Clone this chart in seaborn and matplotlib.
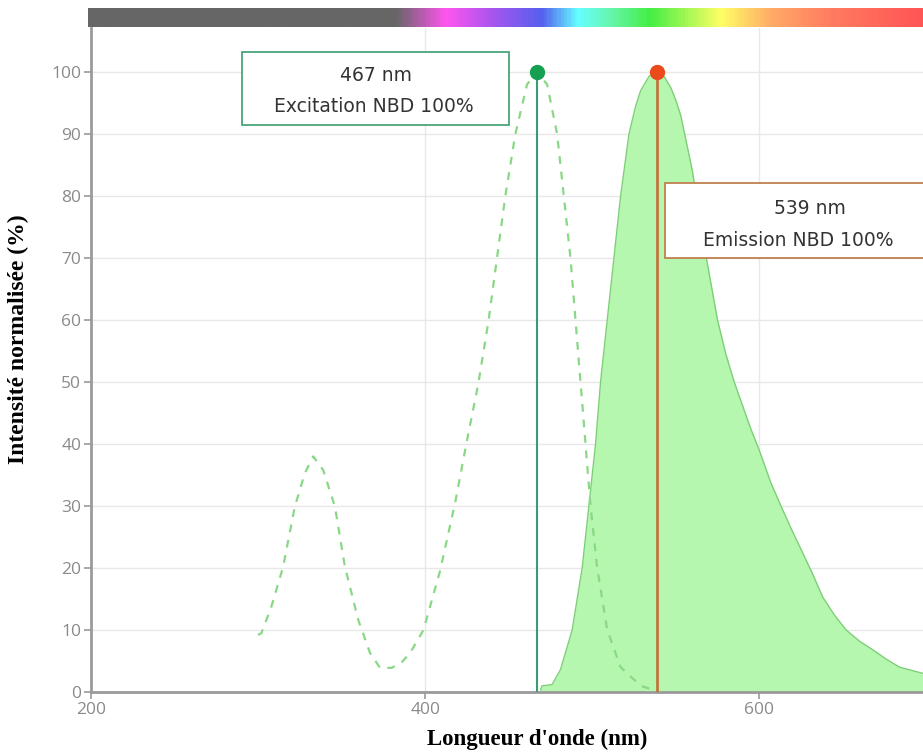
import matplotlib
matplotlib.use('Agg')
import matplotlib.pyplot as plt
import seaborn as sns
import numpy as np
import pandas as pd
from matplotlib.colors import LinearSegmentedColormap
from matplotlib.patches import Rectangle

# excitation spectrum (dashed)
exc_nm = [300, 302, 308, 315, 322, 328, 333, 339, 346, 352, 360, 367, 373, 380, 386,
          391, 399, 409, 418, 425, 432, 438, 443, 448, 454, 461, 467, 473, 479, 483,
          487, 490, 493, 496, 499, 503, 509, 517, 529, 537]
exc_val = [9.2, 9.5, 13.8, 20.2, 29.9, 35.3, 38.0, 35.8, 29.9, 20.2, 11.6, 6.3, 3.9, 3.9, 4.8,
           6.3, 10.0, 19.6, 30.6, 40.5, 50.0, 60.0, 70.0, 80.0, 90.0, 98.0, 100.0, 98.0, 90.0, 80.0,
           70.0, 60.0, 50.0, 40.0, 30.0, 20.0, 10.0, 4.0, 1.0, 0.3]

# emission spectrum (filled)
em_nm = [469, 470, 476, 481, 488, 494, 498, 502, 505, 509, 513, 517, 522, 526, 529, 534,
         539, 543, 547, 550, 553, 560, 567, 575, 580, 585, 590, 595, 600, 607, 613, 619,
         625, 632, 638, 645, 652, 660, 668, 676, 684, 691, 698]
em_val = [0.3, 1.0, 1.2, 3.6, 10.0, 20.0, 30.0, 40.0, 50.0, 60.0, 70.0, 80.0, 90.0, 94.5, 97.0, 99.3,
          100.0, 99.3, 97.5, 95.5, 93.0, 84.0, 72.0, 60.0, 54.5, 50.0, 46.2, 42.4, 39.0, 33.7, 30.0, 26.4,
          23.0, 19.0, 15.3, 12.4, 10.0, 8.2, 6.8, 5.3, 4.0, 3.5, 3.0]

exc_peak = 467
em_peak = 539
exc_lines = ["467 nm", "Excitation NBD 100%"]
em_lines = ["539 nm", "Emission NBD 100%"]

y_ticks = list(range(0, 101, 10))
x_ticks = [200, 400, 600]

exc_df = pd.DataFrame({"nm": exc_nm, "val": exc_val})
em_df = pd.DataFrame({"nm": em_nm, "val": em_val})

sns.set_theme(style="whitegrid")
plt.rcParams['font.family'] = ['Open Sans', 'DejaVu Sans']

fig = plt.figure(figsize=(9.23, 7.53), dpi=100)
ax = fig.add_axes([91 / 923, 61 / 753, 1 - 91 / 923, 664 / 753])
ax.set_xlim(200, 698)
ax.set_ylim(0, 107.1)

# emission: filled area with a slightly darker edge
ax.fill_between(em_df["nm"], em_df["val"], color="#b5f7ae", lw=0, zorder=1)
sns.lineplot(data=em_df, x="nm", y="val", ax=ax, color="#7dcf78", lw=1.0, zorder=2)

# excitation: dashed line
sns.lineplot(data=exc_df, x="nm", y="val", ax=ax, color="#8ad886", lw=1.6,
             dashes=False, zorder=3)
ax.lines[-1].set_dashes([3.5, 3.5])

# peak markers
ax.plot([exc_peak, exc_peak], [0, 100], color="#3a9c72", lw=1.5, zorder=4)
ax.plot([em_peak, em_peak], [0, 100], color="#c0753c", lw=2.0, zorder=4)
ax.plot(exc_peak, 100, "o", color="#14a050", ms=10, zorder=5, clip_on=False)
ax.plot(em_peak, 100, "o", color="#ea4a1c", ms=10, zorder=5, clip_on=False)

# annotation boxes
box_font = dict(family="DejaVu Sans", fontsize=13.5, color="#333333", zorder=7,
                ha="center", va="center")
ax.add_patch(Rectangle((290.4, 91.5), 159.9, 11.7, facecolor="white",
                       edgecolor="#4aa57a", lw=1.3, zorder=6))
ax.text(370.6, 99.4, exc_lines[0], **box_font)
ax.text(369.5, 94.5, exc_lines[1], **box_font)
ax.add_patch(Rectangle((543.7, 70.0), 160, 12.1, facecolor="white",
                       edgecolor="#c0804e", lw=1.3, zorder=6, clip_on=False))
ax.text(630.5, 78.0, em_lines[0], **box_font)
ax.text(623.5, 72.9, em_lines[1], **box_font)

# axes styling
ax.set_xticks(x_ticks)
ax.set_yticks(y_ticks)
ax.grid(True, color="#e8e8e8", lw=1.0)
ax.set_axisbelow(True)
for side in ["top", "right"]:
    ax.spines[side].set_visible(False)
for side in ["left", "bottom"]:
    ax.spines[side].set_color("#9a9a9a")
    ax.spines[side].set_linewidth(2.0)
ax.tick_params(axis="both", colors="#9a9a9a", labelcolor="#8a8a8a", labelsize=12.5,
               length=5, width=1.2, direction="out", left=True, bottom=True, pad=2)
ax.set_xlabel("Longueur d'onde (nm)", family="Liberation Serif", fontweight="bold",
              fontsize=16.5, color="black")
ax.set_ylabel("Intensité normalisée (%)", family="Liberation Serif", fontweight="bold",
              fontsize=17, color="black")
ax.xaxis.set_label_coords(0.536, -0.056)
ax.yaxis.set_label_coords(-0.074, 0.532)

# spectrum colour bar on top
stops = [(198, "#666666"), (382, "#666666"), (412, "#ff55ee"), (440, "#a855ee"),
         (470, "#5560ee"), (492, "#66ffff"), (512, "#66f5aa"), (535, "#44ee44"),
         (578, "#ffff66"), (608, "#ffaa66"), (645, "#ff7a60"), (698, "#ff5555")]
lo, hi = stops[0][0], stops[-1][0]
cmap = LinearSegmentedColormap.from_list(
    "spec", [((n - lo) / (hi - lo), c) for n, c in stops])
bar = fig.add_axes([88 / 923, (753 - 27) / 753, 1 - 88 / 923, 19 / 753])
bar.imshow(np.linspace(0, 1, 600).reshape(1, -1), aspect="auto", cmap=cmap,
           extent=[lo, hi, 0, 1])
bar.set_axis_off()

fig.savefig("out.png", dpi=100)
